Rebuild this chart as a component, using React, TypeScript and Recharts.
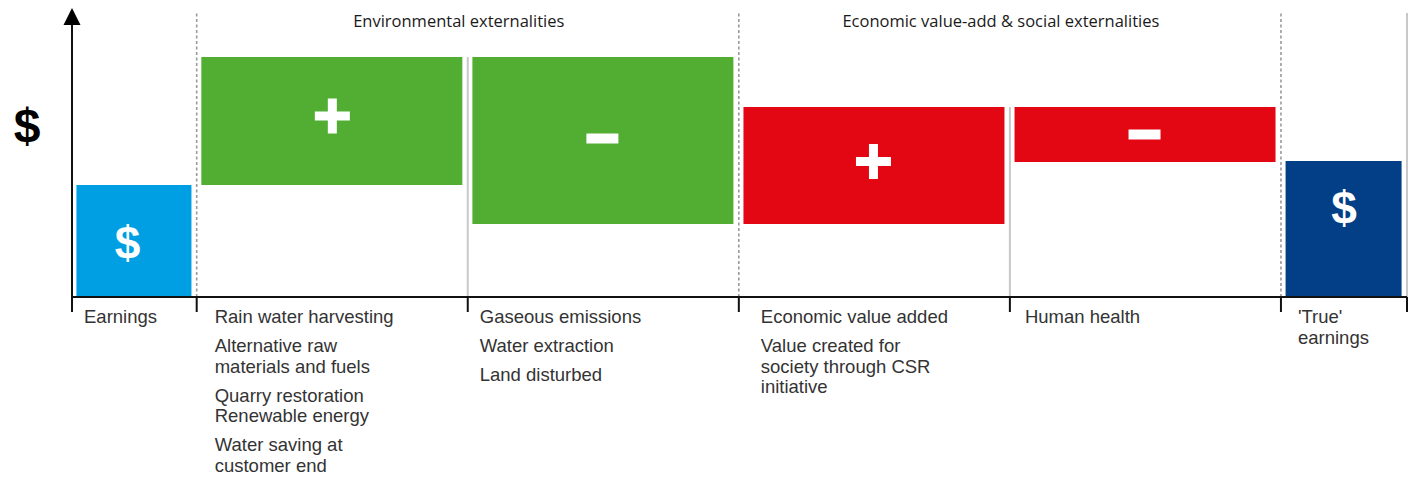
import {
  ComposedChart,
  Bar,
  Cell,
  LabelList,
  XAxis,
  YAxis,
  ReferenceArea,
  ReferenceLine,
  ReferenceDot,
} from "recharts";

// Waterfall steps, arbitrary $ units
const columns = ["Earnings", "Environmental +", "Environmental -", "Economic & social +", "Social -", "True earnings"];
const earnings = 112;
const changes = [128, -167, 117, -55]; // env +, env -, econ/social +, social -
const trueEarnings = 136;
const glyphs = ["$", "+", "-", "+", "-", "$"];
const barColours = ["#009FE3", "#52AE32", "#52AE32", "#E30613", "#E30613", "#033F87"];

// Text under each column (items, each item one or more lines)
const columnLabels: string[][][] = [
  [["Earnings"]],
  [
    ["Rain water harvesting"],
    ["Alternative raw", "materials and fuels"],
    ["Quarry restoration", "Renewable energy"],
    ["Water saving at", "customer end"],
  ],
  [["Gaseous emissions"], ["Water extraction"], ["Land disturbed"]],
  [["Economic value added"], ["Value created for", "society through CSR", "initiative"]],
  [["Human health"]],
  [["'True'", "earnings"]],
];
const groupTitles = ["Environmental externalities", "Economic value-add & social externalities"];
const groupColumns = [[1, 2], [3, 4]];

// layout (axis units: a middle column is 2 wide)
const spans = [0.92, 2, 2, 2, 2, 0.93];
const barWidths = [115, 261, 261, 261, 261, 116];
const labelDx = [12, 18, 12, 22, 15, 17];
const glyphDx = [-7, 0, -1, -1, -1, 0];
const glyphDy = [2, -5, -2, -4, 0, -21];
const Y_MAX = 284;

const bounds = spans.reduce<number[]>((acc, s) => [...acc, acc[acc.length - 1] + s], [0]);
const X_MAX = bounds[bounds.length - 1];

// build the waterfall ranges
const ranges: [number, number][] = [[0, earnings]];
let running = earnings;
changes.forEach((c) => {
  const next = running + c;
  ranges.push([Math.min(running, next), Math.max(running, next)]);
  running = next;
});
ranges.push([0, trueEarnings]);

const data = columns.map((name, i) => ({
  name,
  x: (bounds[i] + bounds[i + 1]) / 2,
  range: ranges[i],
}));

const LABEL_FONT = "'Liberation Sans', Arial, sans-serif";
const TITLE_FONT = "'Open Sans', 'Noto Sans', sans-serif";

// bars on a number axis share one size; narrow the end columns around the same centre
function WaterfallBar(props: any) {
  const { x, y, width, height, index } = props;
  const w = barWidths[index];
  const cx = x + width / 2 - 0.5;
  return <rect x={cx - w / 2} y={y} width={w} height={height} fill={barColours[index]} />;
}

function Glyph(props: any) {
  const { x, y, width, height, index } = props;
  const cx = x + width / 2 + glyphDx[index];
  const cy = y + height / 2 + glyphDy[index];
  const g = glyphs[index];
  if (g === "+") {
    return (
      <g fill="#fff">
        <rect x={cx - 17.5} y={cy - 4.5} width={35} height={9} />
        <rect x={cx - 4.5} y={cy - 17.5} width={9} height={35} />
      </g>
    );
  }
  if (g === "-") {
    return <rect x={cx - 16} y={cy - 5} width={32} height={10} fill="#fff" />;
  }
  return (
    <text
      x={cx}
      y={cy}
      textAnchor="middle"
      dominantBaseline="central"
      fill="#fff"
      fontSize={46}
      fontWeight={700}
      fontFamily={LABEL_FONT}
    >
      $
    </text>
  );
}

function ColumnTick({ x, y, index }: any) {
  const items = columnLabels[index];
  if (!items) return <g />;
  const rows: { text: string; y: number }[] = [];
  let cy = y + 9;
  items.forEach((lines) => {
    lines.forEach((t) => {
      rows.push({ text: t, y: cy });
      cy += 20.5;
    });
    cy += 8.5;
  });
  return (
    <g>
      {rows.map((r, k) => (
        <text key={k} x={x + labelDx[index]} y={r.y} fill="#333" fontSize={18.5} fontFamily={LABEL_FONT}>
          {r.text}
        </text>
      ))}
    </g>
  );
}

export default function App() {
  return (
    <div style={{ position: "absolute", left: 0, top: 0, background: "#fff" }}>
      <ComposedChart
        width={1413}
        height={477}
        data={data}
        margin={{ top: 13, right: 6, bottom: 0, left: 0 }}
      >
        <XAxis
          type="number"
          dataKey="x"
          domain={[0, X_MAX]}
          ticks={bounds}
          interval={0}
          height={180}
          tickSize={15}
          axisLine={{ stroke: "#111", strokeWidth: 2 }}
          tickLine={{ stroke: "#111", strokeWidth: 2 }}
          tick={(props: any) => <ColumnTick {...props} />}
        />
        <YAxis
          type="number"
          domain={[0, Y_MAX]}
          width={72}
          tick={false}
          tickLine={false}
          axisLine={{ stroke: "#111", strokeWidth: 2 }}
          label={{
            content: ({ viewBox }: any) => (
              <text
                x={viewBox.x + 27}
                y={viewBox.y + 112}
                textAnchor="middle"
                dominantBaseline="central"
                fontSize={48}
                fontWeight={700}
                fontFamily={LABEL_FONT}
                fill="#000"
              >
                $
              </text>
            ),
          }}
        />

        {/* group separators */}
        {[1, 3, 5].map((b) => (
          <ReferenceLine
            key={`d${b}`}
            x={bounds[b]}
            stroke="#9a9a9a"
            strokeWidth={1.6}
            strokeDasharray="3 2.5"
          />
        ))}
        <ReferenceLine x={X_MAX} stroke="#c8c8c8" strokeWidth={2} />
        {[2, 4].map((b) => (
          <ReferenceLine
            key={`s${b}`}
            segment={[
              { x: bounds[b], y: 0 },
              { x: bounds[b], y: Math.max(ranges[b - 1][1], ranges[b][1]) },
            ]}
            stroke="#c8c8c8"
            strokeWidth={2}
          />
        ))}

        {/* group titles */}
        {groupTitles.map((t, g) => (
          <ReferenceArea
            key={t}
            x1={bounds[groupColumns[g][0]]}
            x2={bounds[groupColumns[g][1] + 1]}
            y1={0}
            y2={Y_MAX}
            fill="none"
            stroke="none"
            label={({ viewBox }: any) => (
              <text
                x={viewBox.x + viewBox.width / 2 - 9}
                y={viewBox.y + 14}
                textAnchor="middle"
                fontSize={16.5}
                fontFamily={TITLE_FONT}
                fill="#1a1a1a"
              >
                {t}
              </text>
            )}
          />
        ))}

        {/* waterfall bars */}
        <Bar dataKey="range" barSize={261} shape={WaterfallBar} isAnimationActive={false}>
          {data.map((d, i) => (
            <Cell key={d.name} fill={barColours[i]} />
          ))}
          <LabelList dataKey="range" content={Glyph} />
        </Bar>

        {/* y-axis arrowhead */}
        <ReferenceDot
          x={0}
          y={Y_MAX}
          ifOverflow="visible"
          shape={(p: any) => (
            <polygon
              points={`${p.cx},${p.cy - 5} ${p.cx - 8.5},${p.cy + 12} ${p.cx + 8.5},${p.cy + 12}`}
              fill="#000"
            />
          )}
        />
      </ComposedChart>
    </div>
  );
}
